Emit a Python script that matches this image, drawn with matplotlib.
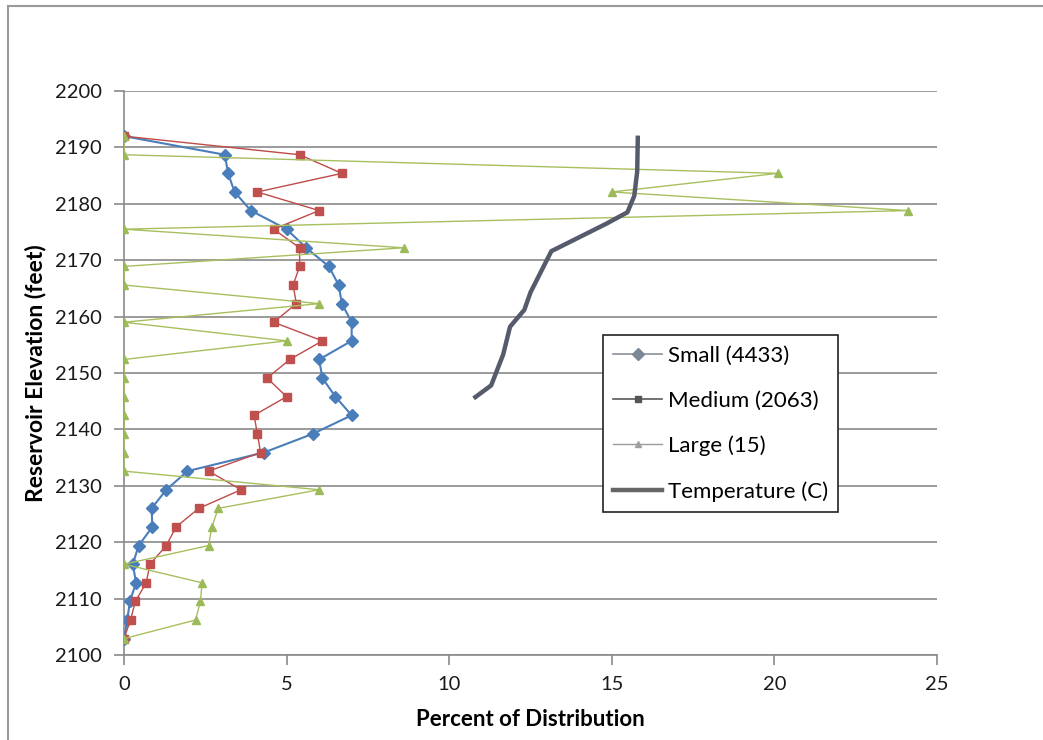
import matplotlib
matplotlib.use("Agg")
import matplotlib.pyplot as plt
from matplotlib.lines import Line2D

plt.rcParams['font.family'] = ['Lato', 'DejaVu Sans']

# sampling elevations (feet), top to bottom
elevation = [2192.0, 2188.7, 2185.4, 2182.1, 2178.8, 2175.5, 2172.2, 2168.9,
             2165.6, 2162.3, 2159.0, 2155.7, 2152.4, 2149.1, 2145.8, 2142.5,
             2139.2, 2135.9, 2132.6, 2129.3, 2126.0, 2122.7, 2119.4, 2116.1,
             2112.8, 2109.5, 2106.2, 2102.9]

small = [0.0, 3.1, 3.2, 3.4, 3.9, 5.0, 5.6, 6.3,
         6.6, 6.7, 7.0, 7.0, 6.0, 6.1, 6.5, 7.0,
         5.8, 4.3, 1.95, 1.3, 0.85, 0.87, 0.45, 0.27,
         0.37, 0.18, 0.1, 0.0]

medium = [0.0, 5.4, 6.7, 4.1, 6.0, 4.6, 5.4, 5.4,
          5.2, 5.3, 4.6, 6.1, 5.1, 4.4, 5.0, 4.0,
          4.1, 4.2, 2.6, 3.6, 2.3, 1.6, 1.3, 0.8,
          0.68, 0.35, 0.2, 0.0]

large = [0.0, 0.0, 20.1, 15.0, 24.1, 0.0, 8.6, 0.0,
         0.0, 6.0, 0.0, 5.0, 0.0, 0.0, 0.0, 0.0,
         0.0, 0.0, 0.0, 6.0, 2.9, 2.7, 2.6, 0.0,
         2.4, 2.35, 2.2, 0.0]

# temperature profile (deg C) against elevation
temp_elev = [2192.1, 2185.7, 2181.4, 2178.5, 2176.5, 2171.6, 2169.2,
             2164.3, 2161.2, 2158.2, 2153.3, 2147.8, 2145.5]
temp_c = [15.8, 15.78, 15.69, 15.48, 14.84, 13.14, 12.93,
          12.5, 12.31, 11.87, 11.66, 11.29, 10.75]

labels = ['Small (4433)', 'Medium (2063)', 'Large (15)', 'Temperature (C)']

fig = plt.figure(figsize=(10.43, 7.40), dpi=100)
ax = fig.add_axes([0.1189, 0.1149, 0.7795, 0.7621])

ax.plot(small, elevation, color='#4A7EBB', lw=1.5, marker='D', ms=6,
        mfc='#4A7EBB', mec='#4A7EBB', zorder=3)
ax.plot(medium, elevation, color='#BE4B48', lw=1.0, marker='s', ms=5.5,
        mfc='#C0504D', mec='#C0504D', zorder=4)
ax.plot(large, elevation, color='#A8BF5E', lw=1.0, marker='^', ms=5.5,
        mfc='#9BBB59', mec='#9BBB59', zorder=5)
ax.plot(temp_c, temp_elev, color='#565B6B', lw=3.2, solid_capstyle='butt',
        zorder=6)

ax.set_xlim(0, 25)
ax.set_ylim(2100, 2200)
ax.set_xticks([0, 5, 10, 15, 20, 25])
ax.set_yticks(range(2100, 2201, 10))
ax.grid(axis='y', color='#8A8A8A', lw=1.2)
ax.set_axisbelow(True)
for s in ['top', 'right']:
    ax.spines[s].set_visible(False)
ax.spines['left'].set_color('#8A8A8A')
ax.spines['bottom'].set_color('#8A8A8A')
ax.spines['left'].set_linewidth(1.2)
ax.spines['bottom'].set_linewidth(1.2)
ax.tick_params(axis='both', direction='out', length=7, width=1.2,
               color='#8A8A8A', labelsize=14.5, labelcolor='#1A1A1A')
ax.tick_params(axis='y', pad=9)
ax.tick_params(axis='x', pad=8)

ax.set_xlabel('Percent of Distribution', fontsize=16, fontweight='bold',
              labelpad=12)
ax.set_ylabel('Reservoir Elevation (feet)', fontsize=16.5, fontweight='bold',
              labelpad=6)

# legend keys drawn in grey
handles = [
    Line2D([], [], color='#8A8F99', lw=1.2, marker='D', ms=6,
           mfc='#7C8797', mec='#7C8797'),
    Line2D([], [], color='#5A5A5A', lw=1.2, marker='s', ms=5,
           mfc='#555555', mec='#555555'),
    Line2D([], [], color='#9A9A9A', lw=1.0, marker='^', ms=5,
           mfc='#A0A0A0', mec='#A0A0A0'),
    Line2D([], [], color='#666666', lw=3.2),
]
leg = ax.legend(handles, labels, loc='upper left',
                bbox_to_anchor=(0.589, 0.567), fontsize=16, frameon=True,
                fancybox=False, edgecolor='#222222', framealpha=1,
                handlelength=2.2, handletextpad=0.25, labelspacing=1.12,
                borderpad=0.47, borderaxespad=0)
leg.get_frame().set_linewidth(1.2)

# outer chart border (top and left edges)
fig.add_artist(Line2D([8 / 1043, 1.0], [1 - 6 / 740, 1 - 6 / 740],
                      color='#9A9A9A', lw=1.5, transform=fig.transFigure))
fig.add_artist(Line2D([8 / 1043, 8 / 1043], [0.0, 1 - 6 / 740],
                      color='#9A9A9A', lw=1.5, transform=fig.transFigure))

fig.savefig('out.png', dpi=100)
